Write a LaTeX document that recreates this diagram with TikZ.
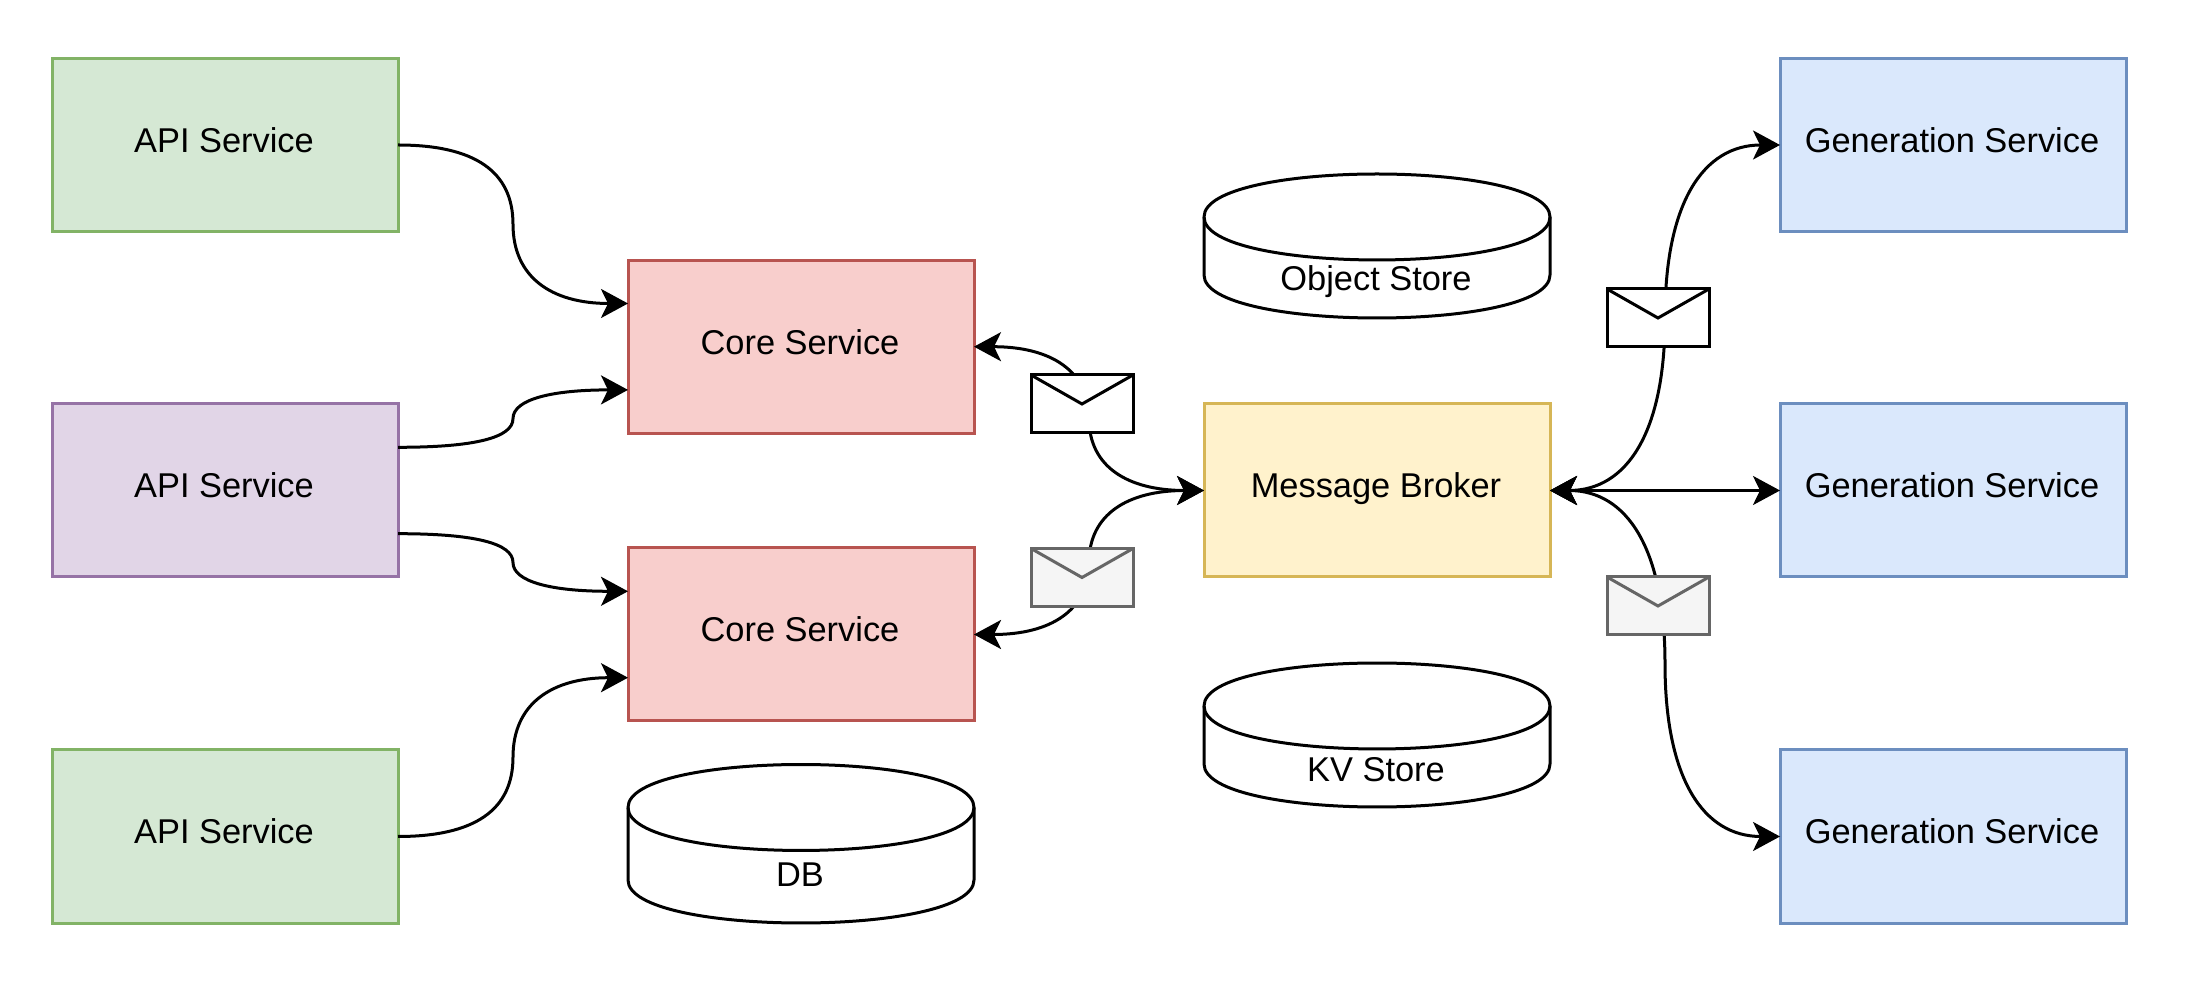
\documentclass[tikz,border=0pt]{standalone}
\usepackage{fontspec}
\setmainfont{Liberation Sans}
\usetikzlibrary{arrows.meta,calc}
\definecolor{gf}{HTML}{D5E8D4}\definecolor{gd}{HTML}{82B366}
\definecolor{rf}{HTML}{F8CECC}\definecolor{rd}{HTML}{B85450}
\definecolor{pf}{HTML}{E1D5E7}\definecolor{pd}{HTML}{9673A6}
\definecolor{bf}{HTML}{DAE8FC}\definecolor{bd}{HTML}{6C8EBF}
\definecolor{yf}{HTML}{FFF2CC}\definecolor{yd}{HTML}{D6B656}
\definecolor{ef}{HTML}{F5F5F5}\definecolor{ed}{HTML}{666666}
\tikzset{
  box/.style={rectangle,draw,line width=1.5pt,minimum width=173pt,minimum height=86.5pt,inner sep=0pt,outer sep=0pt,
    font=\fontsize{17.2}{20}\selectfont,text height=12.4pt,text depth=5pt,execute at end node=\kern1pt},
  greenbox/.style={box,fill=gf,draw=gd},
  redbox/.style={box,fill=rf,draw=rd},
  purplebox/.style={box,fill=pf,draw=pd},
  bluebox/.style={box,fill=bf,draw=bd},
  yellowbox/.style={box,fill=yf,draw=yd},
  tiplook/.tip={Stealth[length=13.5pt,width=14.5pt,inset=3.5pt]},
  conn/.style={line width=1.5pt,-{tiplook}},
  conntwo/.style={line width=1.5pt,{tiplook}-{tiplook}},
  cyltext/.style={font=\fontsize{17.2}{20}\selectfont,inner sep=0pt,text height=12.4pt,text depth=1pt},
  envlook/.style={line width=1.5pt,line join=miter},
  envwhite/.style={envlook,draw=black,fill=white},
  envgrey/.style={envlook,draw=ed,fill=ef},
}
% S-curve built from two quadratic segments: start, control 1, control 2, end
\newcommand{\scurve}[5]{%
  \coordinate (sm) at ($(#3)!.5!(#4)$);
  \draw[#1] (#2) .. controls ($(#2)!.6667!(#3)$) and ($(sm)!.6667!(#3)$) .. (sm)
     .. controls ($(sm)!.6667!(#4)$) and ($(#5)!.6667!(#4)$) .. (#5);}
% cylinder: name, left x, top y, height, label, label y
\newcommand{\cyl}[6]{%
  \pgfmathsetmacro{\cR}{#2+346}\pgfmathsetmacro{\cB}{#3+#4}%
  \pgfmathsetmacro{\cA}{#3+43}\pgfmathsetmacro{\cC}{#3+#4-43}%
  \pgfmathsetmacro{\cU}{#3-14.33}\pgfmathsetmacro{\cL}{#3+100.3}\pgfmathsetmacro{\cD}{#3+#4+14.33}%
  \draw[line width=1.5pt,fill=white] (#2,\cA) .. controls (#2,\cU) and (\cR,\cU) .. (\cR,\cA)
     -- (\cR,\cC) .. controls (\cR,\cD) and (#2,\cD) .. (#2,\cC) -- cycle;
  \draw[line width=1.5pt] (#2,\cA) .. controls (#2,\cL) and (\cR,\cL) .. (\cR,\cA);
  \node[cyltext] (#1) at (#2+172,#6) {#5};}
% envelope: name, style, left x, top y
\newcommand{\envl}[4]{%
  \pgfmathsetmacro{\eR}{#3+102}\pgfmathsetmacro{\eB}{#4+58}\pgfmathsetmacro{\eM}{#3+51}\pgfmathsetmacro{\eT}{#4+29}%
  \draw[#2] (#3,#4) rectangle (\eR,\eB);
  \draw[#2,fill=none] (#3,#4) -- (\eM,\eT) -- (\eR,#4);
  \coordinate (#1) at (\eM,\eT);}
\begin{document}
\begin{tikzpicture}[x=0.5pt,y=-0.5pt]
\useasboundingbox (0,0) rectangle (2200,1004);
\begin{scope}[yshift=-0.5pt]
\node[greenbox] (api1) at (225,144) {API Service};
\node[purplebox] (api2) at (225,489.5) {API Service};
\node[greenbox] (api3) at (225,835.5) {API Service};
\node[redbox] (core1) at (801,345.7) {Core Service};
\node[redbox] (core2) at (801,633.5) {Core Service};
\node[yellowbox] (broker) at (1377,489.5) {Message Broker};
\node[bluebox] (gen1) at (1953,144) {Generation Service};
\node[bluebox] (gen2) at (1953,489.5) {Generation Service};
\node[bluebox] (gen3) at (1953,835.5) {Generation Service};
\cyl{obj}{1204}{173}{144}{Object Store}{278}
\cyl{kv}{1204}{662}{144}{KV Store}{769}
\cyl{db}{628}{763.5}{158.5}{DB}{874}
% control points and ports
\coordinate (a2u) at ($(api2.east)+(0,-43.2)$);
\coordinate (a2d) at ($(api2.east)+(0,43.2)$);
\coordinate (c1u) at ($(core1.west)+(0,-43.2)$);
\coordinate (c1d) at ($(core1.west)+(0,43.2)$);
\coordinate (c2u) at ($(core2.west)+(0,-43.2)$);
\coordinate (c2d) at ($(core2.west)+(0,43.2)$);
\coordinate (a1x) at ($(api1.east)+(115,0)$);
\coordinate (a2ux) at ($(a2u)+(115,0)$);
\coordinate (a2dx) at ($(a2d)+(115,0)$);
\coordinate (a3x) at ($(api3.east)+(115,0)$);
\scurve{conn}{api1.east}{a1x}{a1x |- c1u}{c1u}
\scurve{conn}{a2u}{a2ux}{a2ux |- c1d}{c1d}
\scurve{conn}{a2d}{a2dx}{a2dx |- c2u}{c2u}
\scurve{conn}{api3.east}{a3x}{a3x |- c2d}{c2d}
\coordinate (bwx) at ($(broker.west)+(-115,0)$);
\scurve{conntwo}{core1.east}{bwx |- core1.east}{bwx}{broker.west}
\scurve{conntwo}{core2.east}{bwx |- core2.east}{bwx}{broker.west}
\coordinate (bex) at ($(broker.east)+(115,0)$);
\scurve{conntwo}{broker.east}{bex}{bex |- gen1.west}{gen1.west}
\scurve{conntwo}{broker.east}{bex}{bex |- gen3.west}{gen3.west}
\draw[conntwo] (broker.east) -- (gen2.west);
\envl{env1}{envwhite}{1031}{374}
\envl{env2}{envgrey}{1031}{547.5}
\envl{env3}{envwhite}{1607}{288}
\envl{env4}{envgrey}{1607}{576}
\end{scope}
\end{tikzpicture}
\end{document}
